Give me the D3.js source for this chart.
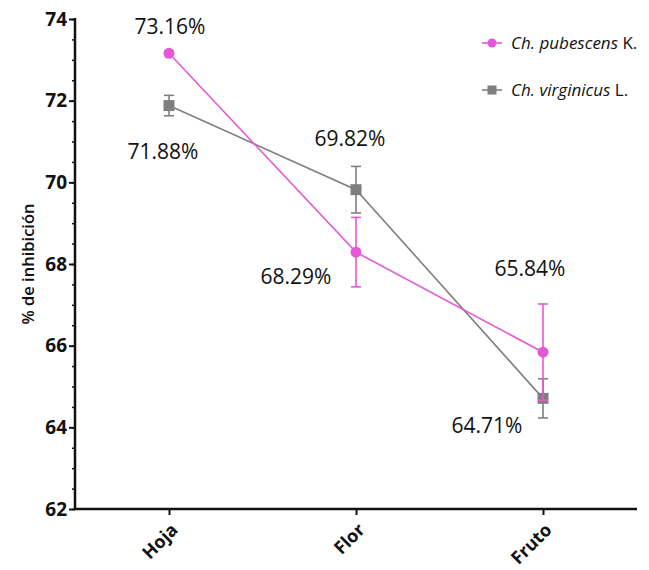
<!DOCTYPE html>
<html>
<head>
<meta charset="utf-8">
<script src="https://cdn.jsdelivr.net/npm/d3@7"></script>
<style>
  html, body { margin: 0; padding: 0; background: #fff; }
  svg { display: block; }
  text { font-family: "Open Sans", "Noto Sans", sans-serif; }
</style>
</head>
<body>
<svg id="chart" width="649" height="570"></svg>
<script>
// Plant organs on the x axis
const categories = ["Hoja", "Flor", "Fruto"];

// Mean % inhibition and error (±) per species
const pubescensMean = [73.16, 68.29, 65.84];
const pubescensErr  = [0.05, 0.85, 1.18];
const virginicusMean = [71.88, 69.82, 64.71];
const virginicusErr  = [0.25, 0.57, 0.48];

// Y axis ticks
const yMajorTicks = [62, 64, 66, 68, 70, 72, 74];
const yMinorTicks = d3.range(62, 74.01, 0.5);

const pink = "#e458d4";
const gray = "#7f7f7f";

const svg = d3.select("#chart");
const plotLeft = 75, plotRight = 637, plotTop = 19, plotBottom = 509;

const x = d3.scalePoint().domain(categories).range([169, 543]);
const y = d3.scaleLinear().domain([62, 74]).range([plotBottom, plotTop]);

// Axes
const yAxis = svg.append("g").attr("transform", `translate(${plotLeft},0)`);
yAxis.call(d3.axisLeft(y).tickValues(yMinorTicks).tickSize(3).tickFormat(""))
  .call(g => g.select(".domain").remove())
  .call(g => g.selectAll("line").attr("stroke", "#111").attr("stroke-width", 1.5));
yAxis.append("g").call(d3.axisLeft(y).tickValues(yMajorTicks).tickSize(6).tickPadding(2).tickFormat(d3.format("d")))
  .call(g => g.select(".domain").remove())
  .call(g => g.selectAll("line").attr("stroke", "#111").attr("stroke-width", 2))
  .call(g => g.selectAll("text").attr("font-size", 19).attr("font-weight", "bold").attr("fill", "#111")
    .attr("font-family", "'Open Sans', sans-serif"));
svg.append("line").attr("x1", plotLeft).attr("x2", plotLeft).attr("y1", plotTop - 1).attr("y2", plotBottom + 1)
  .attr("stroke", "#111").attr("stroke-width", 2.5);

svg.append("g").attr("transform", `translate(0,${plotBottom})`)
  .call(d3.axisBottom(x).tickSize(6).tickFormat(""))
  .call(g => g.select(".domain").remove())
  .call(g => g.selectAll("line").attr("stroke", "#111").attr("stroke-width", 2));
svg.append("line").attr("x1", plotLeft - 1).attr("x2", plotRight).attr("y1", plotBottom).attr("y2", plotBottom)
  .attr("stroke", "#111").attr("stroke-width", 2.5);

svg.append("g").selectAll("text").data(categories).join("text")
  .attr("transform", d => `translate(${x(d) + 10},${plotBottom + 22}) rotate(-45)`)
  .attr("text-anchor", "end")
  .attr("font-size", 18).attr("font-weight", "bold").attr("fill", "#111")
  .text(d => d);

svg.append("text")
  .attr("transform", `translate(34,${(plotTop + plotBottom) / 2}) rotate(-90)`)
  .attr("text-anchor", "middle")
  .attr("font-size", 16.5).attr("font-weight", 600).attr("fill", "#111")
  .text("% de inhibición");

// Series
function drawSeries(means, errs, color, shape) {
  const g = svg.append("g");
  const pts = categories.map((c, i) => ({ c, v: means[i], e: errs[i] }));
  g.append("path").datum(pts)
    .attr("fill", "none").attr("stroke", color).attr("stroke-width", 1.6)
    .attr("d", d3.line().x(d => x(d.c)).y(d => y(d.v)));
  const eb = g.append("g").selectAll("g").data(pts).join("g")
    .attr("stroke", color).attr("stroke-width", 1.6);
  eb.append("line").attr("x1", d => x(d.c)).attr("x2", d => x(d.c))
    .attr("y1", d => y(d.v - d.e)).attr("y2", d => y(d.v + d.e));
  eb.append("line").attr("x1", d => x(d.c) - 5).attr("x2", d => x(d.c) + 5)
    .attr("y1", d => y(d.v - d.e)).attr("y2", d => y(d.v - d.e));
  eb.append("line").attr("x1", d => x(d.c) - 5).attr("x2", d => x(d.c) + 5)
    .attr("y1", d => y(d.v + d.e)).attr("y2", d => y(d.v + d.e));
  if (shape === "circle") {
    g.append("g").selectAll("circle").data(pts).join("circle")
      .attr("cx", d => x(d.c)).attr("cy", d => y(d.v)).attr("r", 5.5).attr("fill", color);
  } else {
    g.append("g").selectAll("rect").data(pts).join("rect")
      .attr("x", d => x(d.c) - 5.5).attr("y", d => y(d.v) - 5.5)
      .attr("width", 11).attr("height", 11).attr("fill", color);
  }
  return pts;
}
drawSeries(virginicusMean, virginicusErr, gray, "square");
drawSeries(pubescensMean, pubescensErr, pink, "circle");

// Value labels (offsets relative to each point)
const fmt = v => v.toFixed(2) + "%";
const pubOffsets = [[1, -19], [-60, 32], [-13, -76]];
const virOffsets = [[-6, 53], [-6, -44], [-56, 35]];
const labels = svg.append("g").attr("font-size", 21).attr("fill", "#111").attr("text-anchor", "middle");
categories.forEach((c, i) => {
  labels.append("text").attr("x", x(c) + pubOffsets[i][0]).attr("y", y(pubescensMean[i]) + pubOffsets[i][1])
    .text(fmt(pubescensMean[i]));
  labels.append("text").attr("x", x(c) + virOffsets[i][0]).attr("y", y(virginicusMean[i]) + virOffsets[i][1])
    .text(fmt(virginicusMean[i]));
});

// Legend
const legend = [
  { name: "Ch. pubescens", suffix: " K.", color: pink, shape: "circle" },
  { name: "Ch. virginicus", suffix: " L.", color: gray, shape: "square" }
];
const lg = svg.append("g").selectAll("g").data(legend).join("g")
  .attr("transform", (d, i) => `translate(482,${43 + i * 47})`);
lg.append("line").attr("x1", 0).attr("x2", 20).attr("stroke", d => d.color).attr("stroke-width", 1.6);
lg.filter(d => d.shape === "circle").append("circle").attr("cx", 10).attr("r", 4.5).attr("fill", d => d.color);
lg.filter(d => d.shape === "square").append("rect").attr("x", 5.5).attr("y", -4.5).attr("width", 9).attr("height", 9).attr("fill", d => d.color);
const lt = lg.append("text").attr("x", 29).attr("dy", "0.35em").attr("font-size", 17).attr("fill", "#111");
lt.append("tspan").attr("font-style", "italic").text(d => d.name);
lt.append("tspan").text(d => d.suffix);
</script>
</body>
</html>
